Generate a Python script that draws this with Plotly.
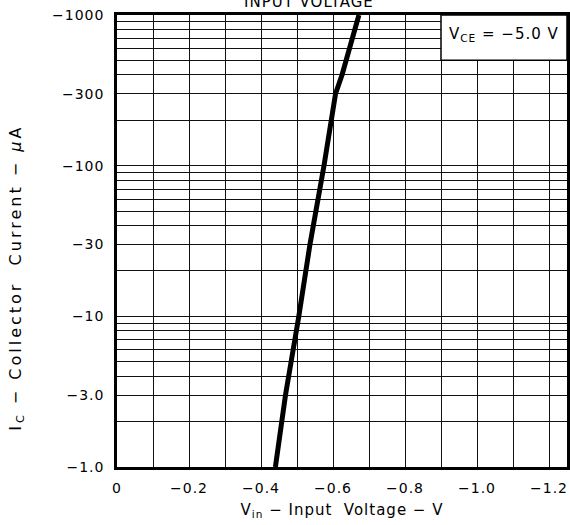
import numpy as np
import plotly.graph_objects as go

# ---- data ----
v_in = [-0.44, -0.468, -0.505, -0.536, -0.575, -0.596, -0.607, -0.625, -0.637, -0.672]   # V
i_c = [-1.0, -3.0, -10.0, -30.0, -100.0, -200.0, -300.0, -400.0, -500.0, -1000.0]       # uA

x_tick_vals = [0, -0.2, -0.4, -0.6, -0.8, -1.0, -1.2]
x_tick_text = ["0", "−0.2", "−0.4", "−0.6", "−0.8", "−1.0", "−1.2"]
y_tick_vals = [1, 3, 10, 30, 100, 300, 1000]
y_tick_text = ["−1.0", "−3.0", "−10", "−30", "−100", "−300", "−1000"]
y_grid_vals = [m * 10 ** d for d in range(3) for m in range(1, 10)] + [1000]
x_grid_vals = [-0.1 * k for k in range(1, 13)]

FONT = "DejaVu Sans"


def spaced(t, px):
    return f'<span style="letter-spacing:{px}px">{t}</span>'


fig = go.Figure()
fig.add_trace(go.Scatter(
    x=v_in, y=np.abs(i_c), mode="lines",
    line=dict(color="black", width=5),
    showlegend=False, hoverinfo="skip"))

fig.update_layout(
    width=570, height=525,
    margin=dict(l=117, r=0, t=15, b=58),
    paper_bgcolor="white", plot_bgcolor="white",
    font=dict(family=FONT, size=14, color="black"),
    xaxis=dict(
        range=[0, -1.25], tickvals=x_tick_vals,
        ticktext=[spaced(t, 1) for t in x_tick_text],
        ticks="", ticklabelstandoff=6,
        showgrid=True, gridcolor="#111", gridwidth=1.4,
        minor=dict(tickvals=x_grid_vals, showgrid=True, gridcolor="#111", gridwidth=1.4),
        showline=True, linecolor="black", linewidth=2.5, mirror=True,
        zeroline=False,
        title=dict(text=spaced("V<sub>in</sub> − Input  Voltage − V", 1), font=dict(size=15), standoff=10),
    ),
    yaxis=dict(
        type="log", range=[0, 3], tickvals=y_tick_vals,
        ticktext=[spaced(t, 1) for t in y_tick_text],
        ticks="", ticklabelstandoff=7,
        showgrid=True, gridcolor="#111", gridwidth=1.4,
        minor=dict(tickvals=y_grid_vals, showgrid=True, gridcolor="#111", gridwidth=1.4),
        showline=True, linecolor="black", linewidth=2.5, mirror=True,
        zeroline=False,
    ),
)

# y-axis title (sits lower than centre in the reference)
fig.add_annotation(xref="paper", yref="paper", x=-0.225, y=0.418,
                   text=spaced("I<sub>C</sub> − Collector  Current − <i>μ</i>A", 3),
                   textangle=-90, showarrow=False, font=dict(size=16),
                   xanchor="center", yanchor="middle")

# condition box (top right)
fig.add_shape(type="rect", xref="x", yref="paper",
              x0=-0.9, x1=-1.25, y0=np.log10(500) / 3, y1=1,
              fillcolor="white", line=dict(color="black", width=1.5), layer="above")
fig.add_annotation(xref="paper", yref="paper", x=0.861, y=0.956,
                   text=spaced("V<sub>CE</sub> = −5.0 V", 1), showarrow=False,
                   font=dict(size=15), xanchor="center", yanchor="middle")

# title, cut off at the top edge
fig.add_annotation(xref="paper", yref="paper", x=0.426, y=1, yshift=2,
                   text=spaced("INPUT VOLTAGE", 1), showarrow=False,
                   font=dict(size=15), xanchor="center", yanchor="bottom")

fig.write_html("out.html", config={"displayModeBar": False},
               post_script="document.body.style.margin='0px';")
